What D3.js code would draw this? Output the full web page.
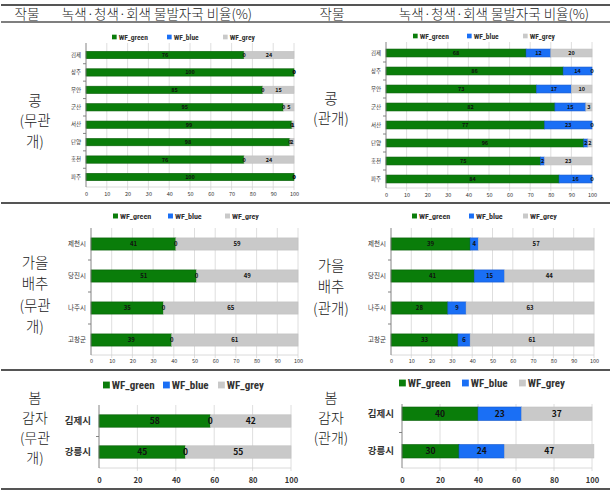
<!DOCTYPE html>
<html><head><meta charset="utf-8">
<script src="https://cdn.jsdelivr.net/npm/d3@7"></script>
<style>
html,body{margin:0;padding:0;background:#fff;}
svg{display:block;}
</style></head>
<body>
<svg id="c" width="613" height="497"></svg>
<script>
// ---------- DATA ----------
const seriesKeys = ["WF_green", "WF_blue", "WF_grey"];
const headerCrop = "작물";
const headerRatio = "녹색·청색·회색 물발자국 비율(%)";

const beanCities = ["김제", "상주", "무안", "군산", "서산", "단양", "홍천", "파주"];
const beanDryGreen = [76, 100, 85, 95, 99, 98, 76, 100];
const beanDryBlue  = [0, 0, 0, 0, 0, 0, 0, 0];
const beanDryGrey  = [24, 0, 15, 5, 1, 2, 24, 0];
const beanIrrGreen = [68, 86, 73, 82, 77, 96, 75, 84];
const beanIrrBlue  = [12, 14, 17, 15, 23, 2, 2, 16];
const beanIrrGrey  = [20, 0, 10, 3, 0, 2, 23, 0];

const cabbageCities = ["제천시", "당진시", "나주시", "고창군"];
const cabbageDryGreen = [41, 51, 35, 39];
const cabbageDryBlue  = [0, 0, 0, 0];
const cabbageDryGrey  = [59, 49, 65, 61];
const cabbageIrrGreen = [39, 41, 28, 33];
const cabbageIrrBlue  = [4, 15, 9, 6];
const cabbageIrrGrey  = [57, 44, 63, 61];

const potatoCities = ["김제시", "강릉시"];
const potatoDryGreen = [58, 45];
const potatoDryBlue  = [0, 0];
const potatoDryGrey  = [42, 55];
const potatoIrrGreen = [40, 30];
const potatoIrrBlue  = [23, 24];
const potatoIrrGrey  = [37, 47];

const ticks10 = [0, 10, 20, 30, 40, 50, 60, 70, 80, 90, 100];
const ticks20 = [0, 20, 40, 60, 80, 100];

const rowLabels = [
  ["콩", "(무관", "개)"], ["콩", "(관개)"],
  ["가을", "배추", "(무관", "개)"], ["가을", "배추", "(관개)"],
  ["봄", "감자", "(무관", "개)"], ["봄", "감자", "(관개)"]
];

// ---------- STYLE / LAYOUT ----------
const colors = {"WF_green": "#0a7d0a", "WF_blue": "#1a6ff5", "WF_grey": "#c9c9c9"};
const strokeCols = {"WF_green": "#075e07", "WF_blue": "#1557c8", "WF_grey": "#c0c0c0"};
const serif = "'Noto Sans CJK KR', 'DejaVu Serif', serif";
const sans = "'Noto Sans CJK KR', 'Noto Sans', sans-serif";
const narrow = "'Liberation Sans Narrow', 'Roboto Condensed', Roboto, sans-serif";

const svg = d3.select("#c");

// table lines
const hLines = [{y: 5, w: 2}, {y: 22, w: 1.6}, {y: 203, w: 2.2}, {y: 370, w: 2.2}, {y: 489, w: 2.2}];
svg.selectAll("line.tbl").data(hLines).join("line")
  .attr("x1", 1).attr("x2", 610).attr("y1", d => d.y).attr("y2", d => d.y)
  .attr("stroke", "#555").attr("stroke-width", d => d.w);

// header
const headers = [{t: headerCrop, x: 27}, {t: headerRatio, x: 157}, {t: headerCrop, x: 332}, {t: headerRatio, x: 494}];
svg.selectAll("text.hdr").data(headers).join("text")
  .attr("x", d => d.x).attr("y", 19).attr("text-anchor", "middle")
  .attr("font-family", serif).attr("font-size", 13.5).attr("font-weight", 300).attr("fill", "#222")
  .text(d => d.t);

// row labels
const labelPos = [
  {x: 35, y: 121, dy: 20.5, fs: 14.5}, {x: 331, y: 109, dy: 20.5, fs: 14.5},
  {x: 35, y: 295, dy: 21.5, fs: 14.5}, {x: 331, y: 287, dy: 21.5, fs: 14.5},
  {x: 35, y: 428, dy: 20, fs: 14}, {x: 331, y: 418, dy: 20, fs: 14}
];
rowLabels.forEach((lines, i) => {
  const p = labelPos[i];
  const n = lines.length;
  const y0 = p.y - (n - 1) * p.dy / 2;
  svg.append("text").attr("text-anchor", "middle")
    .attr("font-family", serif).attr("font-size", p.fs).attr("font-weight", 300).attr("fill", "#222")
    .selectAll("tspan").data(lines).join("tspan")
    .attr("x", p.x).attr("y", (d, j) => y0 + j * p.dy + p.fs * 0.36).text(d => d);
});

const charts = [
  {cats: beanCities, g: beanDryGreen, b: beanDryBlue, r: beanDryGrey, ticks: ticks10,
   x0: 86, x1: 294, axTop: 43, axBot: 187, bandTop: 46.3, bandBot: 185.7, pad: 0.58,
   legY: 37, legX: [112, 167, 223], legFs: 7.5, catFs: 5.5, valFs: 5.5, tickY: 194, tickFs: 5.5, bold: false},
  {cats: beanCities, g: beanIrrGreen, b: beanIrrBlue, r: beanIrrGrey, ticks: ticks10,
   x0: 386, x1: 592, axTop: 42, axBot: 188, bandTop: 44, bandBot: 188, pad: 0.56,
   legY: 36, legX: [413, 467, 523], legFs: 7.5, catFs: 5.5, valFs: 5.5, tickY: 195, tickFs: 5.5, bold: false},
  {cats: cabbageCities, g: cabbageDryGreen, b: cabbageDryBlue, r: cabbageDryGrey, ticks: ticks10,
   x0: 91, x1: 298, axTop: 228, axBot: 355, bandTop: 228, bandBot: 356, pad: 0.62,
   legY: 216, legX: [113, 168, 225], legFs: 8, catFs: 6.5, valFs: 6, tickY: 361, tickFs: 5.5, bold: false},
  {cats: cabbageCities, g: cabbageIrrGreen, b: cabbageIrrBlue, r: cabbageIrrGrey, ticks: ticks10,
   x0: 391, x1: 594, axTop: 228, axBot: 355, bandTop: 228, bandBot: 356, pad: 0.62,
   legY: 216, legX: [412, 469, 523], legFs: 8, catFs: 6.5, valFs: 6, tickY: 361, tickFs: 5.5, bold: false},
  {cats: potatoCities, g: potatoDryGreen, b: potatoDryBlue, r: potatoDryGrey, ticks: ticks20,
   x0: 99, x1: 291, axTop: 405, axBot: 468, bandTop: 405.5, bandBot: 467.5, pad: 0.6,
   legY: 385, legX: [103, 163, 218], legFs: 11, catFs: 9.5, valFs: 8.5, tickY: 480, tickFs: 7.5, bold: true},
  {cats: potatoCities, g: potatoIrrGreen, b: potatoIrrBlue, r: potatoIrrGrey, ticks: ticks20,
   x0: 402, x1: 592, axTop: 404, axBot: 468, bandTop: 395, bandBot: 470, pad: 0.64,
   legY: 383, legX: [399, 462, 519], legFs: 11, catFs: 9.5, valFs: 8.5, tickY: 480, tickFs: 7.5, bold: true}
];

charts.forEach(c => {
  const g = svg.append("g");
  const x = d3.scaleLinear().domain([0, 100]).range([c.x0, c.x1]);
  const y = d3.scaleBand().domain(c.cats).range([c.bandTop, c.bandBot])
    .paddingInner(c.pad).paddingOuter(c.pad / 2);

  // gridlines
  g.selectAll("line.grid").data(c.ticks.slice(1)).join("line")
    .attr("x1", d => x(d)).attr("x2", d => x(d)).attr("y1", c.axTop).attr("y2", c.axBot + 3)
    .attr("stroke", "#d6d6d6").attr("stroke-width", 0.8);
  // bottom axis line
  g.append("line").attr("x1", c.x0).attr("x2", c.x1).attr("y1", c.axBot).attr("y2", c.axBot)
    .attr("stroke", "#d0d0d0").attr("stroke-width", 0.8);

  // x tick labels via axis
  const xa = d3.axisBottom(x).tickValues(c.ticks).tickSize(0).tickPadding(0);
  const xg = g.append("g").attr("transform", `translate(0,${c.tickY})`).call(xa);
  xg.select(".domain").remove();
  xg.selectAll("text").attr("font-family", sans).attr("font-size", c.tickFs)
    .attr("font-weight", c.bold ? 700 : 400).attr("fill", "#333").attr("dy", "0.35em");

  // stacked data
  const rows = c.cats.map((cat, i) => ({cat, WF_green: c.g[i], WF_blue: c.b[i], WF_grey: c.r[i]}));
  const stacked = d3.stack().keys(seriesKeys)(rows);

  g.selectAll("g.ser").data(stacked).join("g")
    .attr("fill", d => colors[d.key]).attr("stroke", d => strokeCols[d.key]).attr("stroke-width", 0.6)
    .selectAll("rect").data(d => d).join("rect")
    .attr("x", d => x(d[0])).attr("width", d => Math.max(0, x(d[1]) - x(d[0])))
    .attr("y", d => y(d.data.cat)).attr("height", y.bandwidth());

  // value labels
  stacked.forEach(s => {
    g.selectAll(null).data(s).join("text")
      .attr("x", d => x((d[0] + d[1]) / 2)).attr("y", d => y(d.data.cat) + y.bandwidth() / 2)
      .attr("dy", "0.36em").attr("text-anchor", "middle")
      .attr("font-family", sans).attr("font-size", c.valFs).attr("font-weight", 700).attr("fill", "#111")
      .text(d => d.data[s.key]);
  });

  // y axis line and category ticks
  g.append("line").attr("x1", c.x0).attr("x2", c.x0).attr("y1", c.axTop).attr("y2", c.axBot)
    .attr("stroke", "#777").attr("stroke-width", 0.9);
  const step = y.step();
  const bounds = c.cats.slice(1).map((cat, i) => y(cat) - step * c.pad / 2);
  g.selectAll("line.yt").data(bounds).join("line")
    .attr("x1", c.x0 - 3).attr("x2", c.x0).attr("y1", d => d).attr("y2", d => d)
    .attr("stroke", "#777").attr("stroke-width", 0.9);

  // category labels via axis
  const ya = d3.axisLeft(y).tickSize(0).tickPadding(c.bold ? 8 : 5);
  const yg = g.append("g").attr("transform", `translate(${c.x0},0)`).call(ya);
  yg.select(".domain").remove();
  yg.selectAll("text").attr("font-family", sans).attr("font-size", c.catFs)
    .attr("font-weight", c.bold ? 700 : 400).attr("fill", "#333");

  // legend
  const lg = g.selectAll("g.leg").data(seriesKeys).join("g")
    .attr("transform", (d, i) => `translate(${c.legX[i]},${c.legY})`);
  const sq = c.legFs * 0.62;
  lg.append("rect").attr("x", 0).attr("y", -sq / 2).attr("width", sq).attr("height", sq)
    .attr("fill", d => colors[d]);
  lg.append("text").attr("x", sq + 2).attr("dy", "0.35em")
    .attr("font-family", narrow).attr("font-size", c.legFs).attr("font-weight", 700).attr("fill", "#333")
    .text(d => d);
});
</script>
</body></html>
